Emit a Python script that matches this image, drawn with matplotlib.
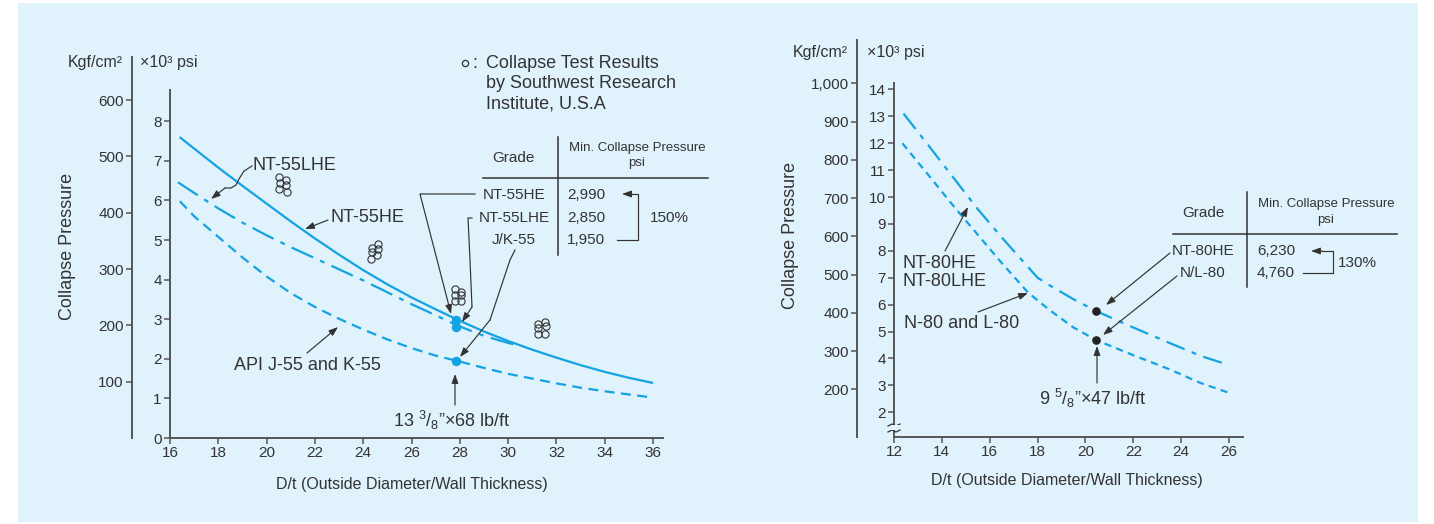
import numpy as np
import matplotlib
matplotlib.use('Agg')
import matplotlib.pyplot as plt
from matplotlib.lines import Line2D
from matplotlib.patches import FancyArrowPatch, Rectangle

W, H = 1434, 524
plt.rcParams['font.family'] = ['Liberation Sans', 'DejaVu Sans']
plt.rcParams['mathtext.fontset'] = 'custom'
plt.rcParams['mathtext.rm'] = 'Liberation Sans'
plt.rcParams['mathtext.it'] = 'Liberation Sans:italic'
plt.rcParams['mathtext.bf'] = 'Liberation Sans:bold'
plt.rcParams['lines.scale_dashes'] = False

# ---------------- data: left chart (55 grades, 13 3/8") ----------------
dt_he55 = [16.4, 17, 18, 19, 20, 21, 22, 23, 24, 25, 26, 27, 28, 29, 30, 31, 32, 33, 34, 35, 36]
psi_he55 = [7.60, 7.31, 6.83, 6.37, 5.92, 5.47, 5.04, 4.63, 4.24, 3.88, 3.55, 3.25, 2.96,
            2.69, 2.45, 2.23, 2.03, 1.84, 1.67, 1.52, 1.39]
dt_lhe55 = [16.33, 17, 18, 19, 20, 21, 22, 23, 24, 25, 26, 27, 27.86, 29, 30, 30.5]
psi_lhe55 = [6.46, 6.19, 5.80, 5.44, 5.12, 4.82, 4.54, 4.26, 3.98, 3.68, 3.38, 3.10, 2.85,
             2.58, 2.40, 2.33]
dt_api55 = [16.41, 17, 18, 19, 20, 21, 22, 23, 24, 25, 26, 27, 28, 29, 30, 31, 32, 33, 34, 35, 35.75]
psi_api55 = [5.98, 5.60, 5.08, 4.56, 4.08, 3.66, 3.31, 3.01, 2.74, 2.49, 2.27, 2.08, 1.93,
             1.77, 1.62, 1.50, 1.38, 1.27, 1.18, 1.10, 1.04]
test_dt = [20.5, 20.8, 20.55, 20.8, 20.5, 20.85,
           24.6, 24.36, 24.6, 24.36, 24.58, 24.33,
           27.8, 28.05, 27.8, 28.05, 27.78, 28.05,
           31.53, 31.24, 31.55, 31.24, 31.53, 31.24]
test_psi = [6.58, 6.52, 6.45, 6.38, 6.30, 6.22,
            4.90, 4.80, 4.77, 4.70, 4.62, 4.52,
            3.76, 3.69, 3.61, 3.61, 3.46, 3.46,
            2.93, 2.88, 2.83, 2.78, 2.63, 2.63]
pt55_dt = [27.86, 27.86, 27.86]
pt55_psi = [2.99, 2.80, 1.95]
grades55 = ['NT-55HE', 'NT-55LHE', 'J/K-55']
mincp55 = ['2,990', '2,850', '1,950']

# ---------------- data: right chart (80 grades, 9 5/8") ----------------
dt_he80 = [12.4, 13.5, 14.5, 15.5, 16.5, 17.5, 18.0, 18.5, 19.5, 20.45, 22, 23.5, 24.8, 26]
psi_he80 = [13.10, 11.85, 10.70, 9.55, 8.50, 7.50, 7.00, 6.72, 6.20, 5.76, 5.15, 4.58, 4.10, 3.75]
dt_n80 = [12.35, 13.5, 14.5, 15.5, 16.5, 17.6, 18.5, 19.5, 20.45, 22, 23.5, 24.8, 26]
psi_n80 = [12.00, 10.75, 9.65, 8.60, 7.55, 6.45, 5.80, 5.15, 4.68, 4.12, 3.60, 3.09, 2.72]
pt80_dt = [20.45, 20.45]
pt80_psi = [5.76, 4.68]
grades80 = ['NT-80HE', 'N/L-80']
mincp80 = ['6,230', '4,760']

xt_left = list(range(16, 37, 2))
yt_left = list(range(0, 9))
kgf_left = [100, 200, 300, 400, 500, 600]
xt_right = list(range(12, 27, 2))
yt_right = list(range(2, 15))
kgf_right = [200, 300, 400, 500, 600, 700, 800, 900, 1000]
kgf_right_lbl = ['200', '300', '400', '500', '600', '700', '800', '900', '1,000']

# ---------------- styling ----------------
BG = '#e0f2fc'
CY = '#14a3e2'
AX = '#555555'
TXT = '#333333'
LC = '#333333'

fig = plt.figure(figsize=(W / 100, H / 100), dpi=100)
fig.patch.set_facecolor('white')


def rect(l, t, r, b):
    return [l / W, 1 - b / H, (r - l) / W, (b - t) / H]


def fp(x, y):
    return (x / W, 1 - y / H)


fig.add_artist(Rectangle(fp(18, 522), (1418 - 18) / W, (522 - 3) / H, transform=fig.transFigure,
                         facecolor=BG, edgecolor='none', zorder=-5))


def style(ax):
    ax.set_facecolor('none')
    for s in ['top', 'right']:
        ax.spines[s].set_visible(False)
    for s in ['left', 'bottom']:
        ax.spines[s].set_color(AX)
        ax.spines[s].set_linewidth(1.4)
    ax.tick_params(direction='out', length=4.5, width=1.1, color=AX, labelsize=11,
                   labelcolor=TXT, pad=1.5)


def kgf_axis(l, t, b, ylim, ticks, labels=None):
    ak = fig.add_axes(rect(l, t, l + 1, b))
    style(ak)
    ak.spines['bottom'].set_visible(False)
    ak.set_xticks([])
    ak.set_ylim(*ylim)
    ak.set_yticks(ticks)
    if labels is not None:
        ak.set_yticklabels(labels)
    return ak


def T(x, y, s, size=13, ha='left', va='center', **kw):
    fig.text(*fp(x, y), s, size=size, ha=ha, va=va, color=TXT, **kw)


def poly(pts, lw=0.85):
    xs, ys = zip(*[fp(*p) for p in pts])
    fig.add_artist(Line2D(xs, ys, transform=fig.transFigure, color=LC, lw=lw))


def arrow(p0, p1, lw=0.85):
    fig.add_artist(FancyArrowPatch(fp(*p0), fp(*p1), transform=fig.transFigure,
                                   arrowstyle='-|>,head_length=5.5,head_width=2.0',
                                   mutation_scale=1, color=LC, lw=lw,
                                   shrinkA=0, shrinkB=0))


# ================= LEFT CHART =================
kgf_axis(132, 57, 438, (0, 676.5), kgf_left)
ax1 = fig.add_axes(rect(170, 90, 663, 438))
style(ax1)
ax1.set_xlim(16, 36.41)
ax1.set_ylim(0, 8.79)
ax1.set_xticks(xt_left)
ax1.set_yticks(yt_left)

ax1.plot(dt_he55, psi_he55, color=CY, lw=1.6, solid_capstyle='butt')
ax1.plot(dt_lhe55, psi_lhe55, color=CY, lw=1.6, linestyle=(0, (17, 5.5, 3.5, 5.5)))
ax1.plot(dt_api55, psi_api55, color=CY, lw=1.6, linestyle=(0, (7.2, 4.6)))
ax1.plot(test_dt, test_psi, linestyle='none', marker='o', ms=5.2, mfc='none', mec='#333333', mew=0.8)
ax1.plot(pt55_dt, pt55_psi, linestyle='none', marker='o', ms=5.8, color=CY, zorder=5)

T(123, 63, 'Kgf/cm²', size=11.5, ha='right')
T(140, 63, '×10³ psi', size=11.5)
T(68, 246, 'Collapse Pressure', size=13, ha='center', rotation=90)
T(412, 485, 'D/t (Outside Diameter/Wall Thickness)', size=11.5, ha='center')

fig.add_artist(Line2D([fp(465, 63)[0]], [fp(465, 63)[1]], transform=fig.transFigure,
                      marker='o', ms=4.5, mfc='none', mec=TXT, mew=0.9, linestyle='none'))
T(472, 63, ':', size=13)
T(486, 63, 'Collapse Test Results', size=13)
T(486, 83, 'by Southwest Research', size=13)
T(486, 104, 'Institute, U.S.A', size=13)

T(253, 165, 'NT-55LHE', size=13)
poly([(252, 166), (244, 171), (239, 179), (236, 185), (231, 188), (225, 188)])
arrow((225, 188), (211, 199))
T(331, 217, 'NT-55HE', size=13)
arrow((328, 220), (305, 229))
T(307, 366, 'API J-55 and K-55', size=13, ha='center')
arrow((307, 353), (338, 327))
T(452, 420, r'13 $\mathregular{^{3}}$/$\mathregular{_{8}}$”×68 lb/ft', size=13, ha='center')
arrow((455, 405), (455, 374))

# table left
T(513, 158, 'Grade', size=11, ha='center')
T(637, 148, 'Min. Collapse Pressure', size=9.5, ha='center')
T(637, 163, 'psi', size=9.5, ha='center')
poly([(558, 137), (558, 255)], lw=1.1)
poly([(483, 178), (708, 178)], lw=1.1)
rows_y = [195, 218, 240]
for g, v, y in zip(grades55, mincp55, rows_y):
    T(514, y, g, size=11, ha='center')
    T(567, y, v, size=11)
poly([(617, 240), (638, 240), (638, 194), (632, 194)])
arrow((632, 194), (622, 194))
T(650, 218, '150%', size=11)
# leaders
poly([(475, 194), (420, 194), (449, 306)])
arrow((449, 306), (451, 314))
poly([(472, 218), (468, 218), (470, 260), (472, 307)])
arrow((472, 307), (462, 322))
poly([(515, 250), (510, 260), (490, 320)])
arrow((490, 320), (460, 357))

# ================= RIGHT CHART =================
kgf_axis(857, 40, 437, (75.8, 1113), kgf_right, kgf_right_lbl)
ax2 = fig.add_axes(rect(894, 83, 1243, 437))
style(ax2)
ax2.set_xlim(12, 26.58)
ax2.set_ylim(1.08, 14.24)
ax2.set_xticks(xt_right)
ax2.set_yticks(yt_right)

ax2.plot(dt_he80, psi_he80, color=CY, lw=1.6, linestyle=(0, (14, 5.5, 3.5, 5.5)))
ax2.plot(dt_n80, psi_n80, color=CY, lw=1.6, linestyle=(0, (5.2, 3.8)))
ax2.plot(pt80_dt, pt80_psi, linestyle='none', marker='o', ms=5.2, color='#222222', zorder=5)

# axis break marks
fig.add_artist(Rectangle(fp(891, 430), 8 / W, 5 / H, transform=fig.transFigure,
                         facecolor=BG, edgecolor='none', zorder=3))
for yy in (425, 431):
    xs = np.array([888, 892, 896, 900])
    ys = np.array([yy + 1, yy - 1, yy + 1, yy - 1])
    poly(list(zip(xs, ys)), lw=0.9)

T(848, 52, 'Kgf/cm²', size=11.5, ha='right')
T(867, 52, '×10³ psi', size=11.5)
T(790, 235, 'Collapse Pressure', size=13, ha='center', rotation=90)
T(1067, 480, 'D/t (Outside Diameter/Wall Thickness)', size=11.5, ha='center')

T(903, 263, 'NT-80HE', size=13)
T(903, 282, 'NT-80LHE', size=13)
arrow((945, 251), (968, 207))
T(904, 324, 'N-80 and L-80', size=13)
arrow((978, 312), (1028, 293))
T(1093, 398, r'9 $\mathregular{^{5}}$/$\mathregular{_{8}}$”×47 lb/ft', size=13, ha='center')
arrow((1097, 383), (1097, 346))

# table right
T(1203, 213, 'Grade', size=11, ha='center')
T(1326, 204, 'Min. Collapse Pressure', size=9.5, ha='center')
T(1326, 220, 'psi', size=9.5, ha='center')
poly([(1247, 192), (1247, 287)], lw=1.1)
poly([(1173, 234), (1397, 234)], lw=1.1)
for g, v, y in zip(grades80, mincp80, [251, 273]):
    T(1203, y, g, size=11, ha='center')
    T(1257, y, v, size=11)
poly([(1303, 273), (1333, 273), (1333, 251), (1322, 251)])
arrow((1322, 251), (1311, 251))
T(1338, 263, '130%', size=11)
arrow((1170, 253), (1106, 305))
arrow((1177, 276), (1103, 335))

fig.savefig('out.png', dpi=100, facecolor='white')
